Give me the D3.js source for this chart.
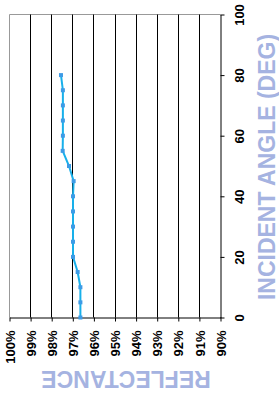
<!DOCTYPE html>
<html>
<head>
<meta charset="utf-8">
<script src="https://cdn.jsdelivr.net/npm/d3@7"></script>
<style>
  body { margin: 0; background: #fff; }
  svg { display: block; font-family: "Liberation Sans", Arial, sans-serif; }
</style>
</head>
<body>
<div id="chart"></div>
<script>
// data
const angles = [0, 5, 10, 15, 20, 25, 30, 35, 40, 45, 50, 55, 60, 65, 70, 75, 80];
const reflectance = [96.64, 96.64, 96.64, 96.77, 96.99, 96.99, 96.99, 96.99, 96.99, 96.96, 97.18, 97.48, 97.47, 97.47, 97.47, 97.47, 97.56];
const angleTicks = [0, 20, 40, 60, 80, 100];
const pctTicks = [100, 99, 98, 97, 96, 95, 94, 93, 92, 91, 90];

const W = 279, H = 399;
const plotL = 9.5, plotR = 220.5, plotT = 14.5, plotB = 317.5;

const svg = d3.select("#chart").append("svg")
  .attr("width", W).attr("height", H);

const x = d3.scaleLinear().domain([100, 90]).range([plotL, plotR]);
const y = d3.scaleLinear().domain([0, 100]).range([plotB, plotT]);

// frame (top/left light grey like the original)
svg.append("line").attr("x1", plotL).attr("x2", plotR).attr("y1", plotT).attr("y2", plotT)
  .attr("stroke", "#999");
svg.append("line").attr("x1", plotL).attr("x2", plotL).attr("y1", plotT).attr("y2", plotB)
  .attr("stroke", "#999");

// vertical gridlines
svg.append("g").selectAll("line")
  .data(pctTicks.slice(1, -1))
  .join("line")
  .attr("x1", d => Math.round(x(d) - 0.5) + 0.5)
  .attr("x2", d => Math.round(x(d) - 0.5) + 0.5)
  .attr("y1", plotT).attr("y2", plotB)
  .attr("stroke", "#000");

// bottom axis (reflectance)
const xAxis = svg.append("g")
  .attr("transform", `translate(0,${plotB})`)
  .call(d3.axisBottom(x).tickValues(pctTicks).tickSize(4).tickSizeOuter(0)
    .tickFormat(d => d + "%"));
xAxis.select(".domain").attr("stroke", "#000");
xAxis.selectAll(".tick line").attr("stroke", "#000");
xAxis.selectAll("text")
  .attr("transform", "rotate(-90)")
  .attr("text-anchor", "end")
  .attr("x", -13).attr("y", 0).attr("dy", "0.36em")
  .attr("font-size", 13).attr("font-weight", "bold").attr("fill", "#000")
  .attr("font-family", "'Liberation Sans', Arial, sans-serif");

// right axis (incident angle)
const yAxis = svg.append("g")
  .attr("transform", `translate(${plotR},0)`)
  .call(d3.axisRight(y).tickValues(angleTicks).tickSize(4).tickSizeOuter(0));
yAxis.select(".domain").attr("stroke", "#000");
yAxis.selectAll(".tick line").attr("stroke", "#000");
yAxis.selectAll("text")
  .attr("transform", "rotate(-90)")
  .attr("text-anchor", "middle")
  .attr("x", 0).attr("y", 19).attr("dy", "0.36em")
  .attr("font-size", 13).attr("font-weight", "bold").attr("fill", "#000")
  .attr("font-family", "'Liberation Sans', Arial, sans-serif");

// series
const pts = angles.map((a, i) => ({ a: a, r: reflectance[i] }));
const line = d3.line().x(d => x(d.r)).y(d => y(d.a));
svg.append("path").datum(pts)
  .attr("d", line)
  .attr("fill", "none")
  .attr("stroke", "#18b0ea")
  .attr("stroke-width", 2);
svg.append("g").selectAll("rect")
  .data(pts)
  .join("rect")
  .attr("x", d => x(d.r) - 2)
  .attr("y", d => y(d.a) - 2)
  .attr("width", 4).attr("height", 4)
  .attr("fill", "#3d9be6");

// axis titles
svg.append("text")
  .attr("transform", "translate(126,379) rotate(180)")
  .attr("text-anchor", "middle").attr("dy", "0.36em")
  .attr("font-size", 23).attr("font-weight", "bold").attr("fill", "#a5b3e1")
  .text("REFLECTANCE");
svg.append("text")
  .attr("transform", "translate(267,167) rotate(-90)")
  .attr("text-anchor", "middle").attr("dy", "0.36em")
  .attr("font-size", 23).attr("font-weight", "bold").attr("fill", "#a5b3e1")
  .text("INCIDENT ANGLE (DEG)");
</script>
</body>
</html>
